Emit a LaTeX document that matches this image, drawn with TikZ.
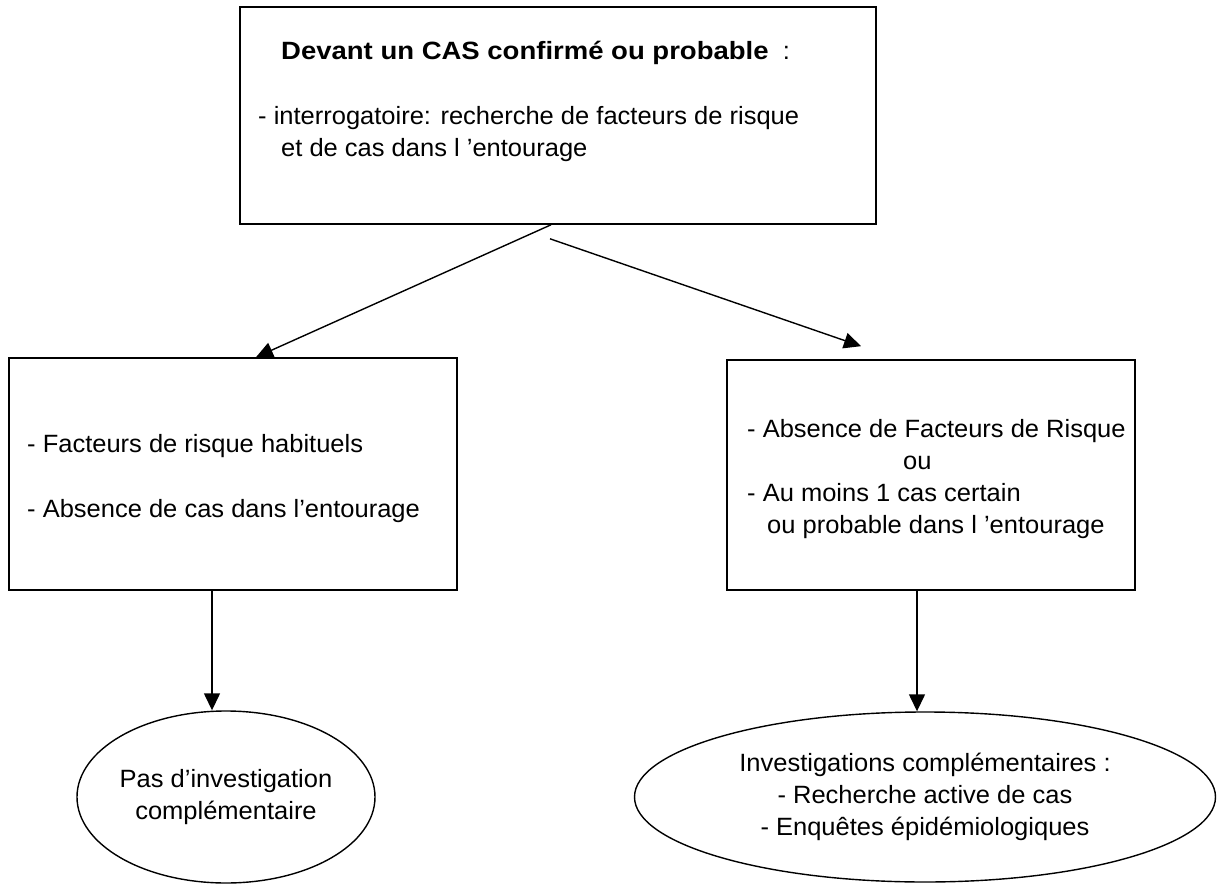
\documentclass[tikz,border=0pt]{standalone}
\usepackage{fontspec}
\setmainfont{Liberation Sans}[FakeStretch=1.02]
\newfontfamily\headfont{Liberation Sans}[FakeStretch=1.1]
\usetikzlibrary{arrows.meta,shapes.geometric}
\begin{document}
\begin{tikzpicture}[x=1pt,y=-1pt,font=\fontsize{25}{32}\selectfont,
  box/.style={draw,line width=1.6pt,inner sep=0pt},
  oval/.style={draw,ellipse,line width=1.4pt,inner sep=0pt,align=center},
  txt/.style={anchor=base west,inner sep=0pt,align=left},
  arr/.style={line width=1.4pt,-{Triangle[length=17pt,width=16pt]}}]
\useasboundingbox (0,0) rectangle (1218,885);
\node[box,minimum width=636,minimum height=217] (B0) at (558,115.5) {};
\node[box,minimum width=448,minimum height=232] (B1) at (233,474) {};
\node[box,minimum width=408,minimum height=230] (B2) at (931,475) {};
\node[oval,inner xsep=-3pt,minimum width=298,minimum height=172] (E1) at (226,797) {Pas d’investigation\\ complémentaire};
\node[oval,minimum width=581,minimum height=170] (E2) at (925,797) {Investigations complémentaires :\\ - Recherche active de cas\\ - Enquêtes épidémiologiques};
\node[txt] (t0) at (258,157) {\hspace*{23pt}{\headfont\bfseries Devant un CAS confirmé ou probable}\ \ :\\[33pt]
  - interrogatoire: recherche de facteurs de risque\\
  \hspace*{23pt}et de cas dans l ’entourage};
\node[txt] (t1) at (27,517) {- Facteurs de risque habituels\\[33pt]- Absence de cas dans l’entourage};
\node[txt] (t2) at (747,533) {- Absence de Facteurs de Risque\\ \hspace*{156pt}ou\\ - Au moins 1 cas certain\\ \hspace*{20pt}ou probable dans l ’entourage};
\draw[arr] ([xshift=-7pt]B0.south) -- ([xshift=23pt]B1.north);
\draw[arr] ([xshift=-8pt,yshift=-14pt]B0.south) -- ([xshift=-70pt,yshift=13pt]B2.north);
\draw[arr] ([xshift=-21pt]B1.south) -- ([xshift=-21pt]B1.south |- E1.north);
\draw[arr] ([xshift=-14pt]B2.south) -- ([xshift=-14pt]B2.south |- E2.north);
\end{tikzpicture}
\end{document}
